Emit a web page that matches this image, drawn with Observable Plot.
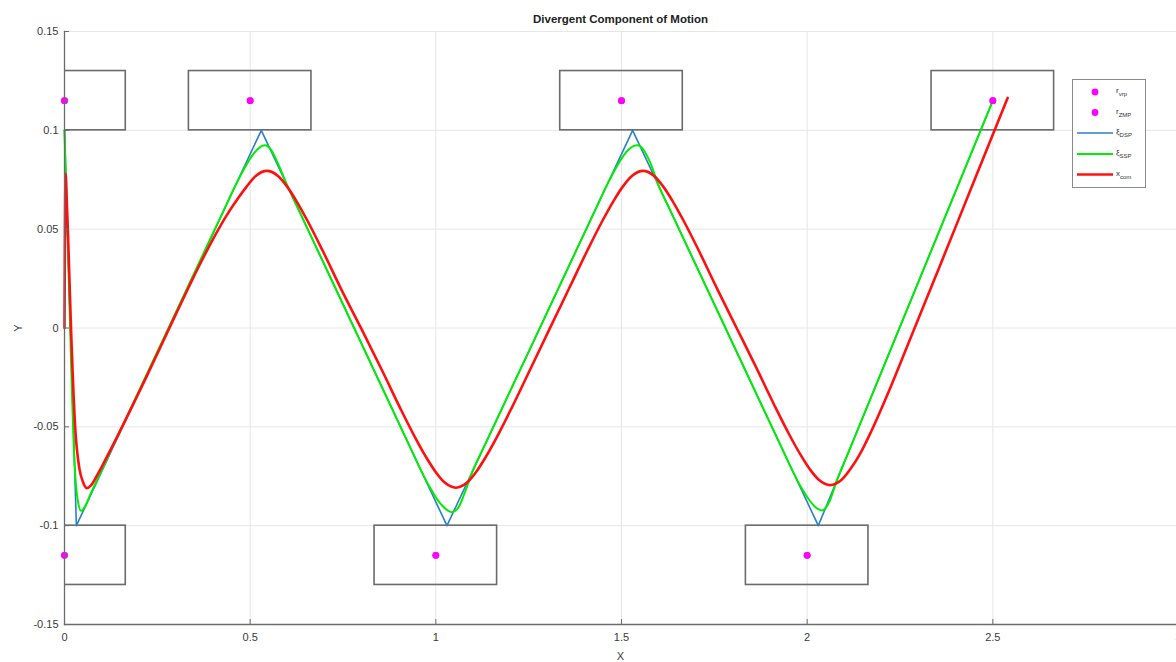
<!DOCTYPE html>
<html>
<head>
<meta charset="utf-8">
<script src="https://cdn.jsdelivr.net/npm/d3@7"></script>
<script src="https://cdn.jsdelivr.net/npm/@observablehq/plot@0.6"></script>
<style>
  body { margin: 0; background: #fff; }
  #wrap { position: relative; width: 1176px; height: 662px; overflow: hidden; font-family: "Liberation Sans", Arial, sans-serif; }
</style>
</head>
<body>
<div id="wrap"></div>
<script>
// ---------- data ----------
const title = "Divergent Component of Motion";
const xLabel = "X";
const yLabel = "Y";
const xTicks = [0, 0.5, 1, 1.5, 2, 2.5, 3];
const yTicks = [-0.15, -0.1, -0.05, 0, 0.05, 0.1, 0.15];

// footsteps (rectangles) and reference points
const footX = [0, 0, 0.5, 1, 1.5, 2, 2.5];
const footY = [0.115, -0.115, 0.115, -0.115, 0.115, -0.115, 0.115];
const footLength = 0.33;
const footWidth = 0.03;

const vrpX = [0, 0, 0.5, 1, 1.5, 2, 2.5];
const vrpY = [0.115, -0.115, 0.115, -0.115, 0.115, -0.115, 0.115];
const zmpX = [0, 0, 0.5, 1, 1.5, 2, 2.5];
const zmpY = [0.115, -0.115, 0.115, -0.115, 0.115, -0.115, 0.115];

// xi_DSP (blue)
const dspX = [0, 0.032, 0.53, 1.03, 1.53, 2.03, 2.5];
const dspY = [0.1, -0.1, 0.1, -0.1, 0.1, -0.1, 0.115];

// xi_SSP (green)
const sspX = [0, 0.004, 0.012, 0.02, 0.027, 0.034, 0.045, 0.056, 0.07, 0.09, 0.12, 0.43,
  0.46, 0.485, 0.505, 0.52, 0.532, 0.54, 0.548, 0.558, 0.575, 0.6, 0.63, 0.93,
  0.96, 0.985, 1.005, 1.02, 1.033, 1.043, 1.052, 1.062, 1.078, 1.1, 1.13, 1.43,
  1.46, 1.485, 1.505, 1.52, 1.533, 1.542, 1.551, 1.561, 1.578, 1.6, 1.63, 1.93,
  1.96, 1.985, 2.005, 2.02, 2.031, 2.04, 2.049, 2.06, 2.08, 2.11, 2.5];
const sspY = [0.1, 0.075, 0.022, -0.032, -0.068, -0.085, -0.0925, -0.09, -0.084, -0.076, -0.064, 0.06,
  0.072, 0.081, 0.0871, 0.0904, 0.0921, 0.0925, 0.0919, 0.0896, 0.0831, 0.072, 0.06, -0.06,
  -0.072, -0.081, -0.0871, -0.0904, -0.0924, -0.0932, -0.0926, -0.0904, -0.0832, -0.072, -0.06, 0.06,
  0.072, 0.081, 0.0871, 0.0904, 0.0921, 0.0925, 0.0919, 0.0897, 0.0834, 0.072, 0.06, -0.06,
  -0.072, -0.081, -0.0869, -0.0902, -0.0918, -0.0923, -0.0912, -0.0878, -0.0771, -0.0634, 0.115];

// x_com (red)
const comX = [0, 0.001, 0.003, 0.006, 0.009, 0.0175, 0.029, 0.04, 0.05, 0.06, 0.072, 0.085, 0.112, 0.22, 0.30, 0.36,
  0.40, 0.435, 0.465, 0.49, 0.515, 0.545, 0.575, 0.60, 0.625, 0.655, 0.695, 0.745, 0.80,
  0.854, 0.904, 0.944, 0.974, 0.999, 1.024, 1.054, 1.084, 1.109, 1.134, 1.164, 1.204, 1.254, 1.306,
  1.358, 1.408, 1.448, 1.478, 1.503, 1.528, 1.558, 1.588, 1.613, 1.638, 1.668, 1.708, 1.758, 1.81,
  1.862, 1.912, 1.952, 1.982, 2.007, 2.032, 2.062, 2.092, 2.117, 2.142, 2.172, 2.212, 2.27, 2.35, 2.45, 2.54];
const comY = [0, 0.04, 0.078, 0.065, 0.05, 0, -0.051, -0.071, -0.078, -0.081, -0.0795, -0.0755, -0.066, -0.025, 0.007, 0.0305,
  0.045, 0.0565, 0.065, 0.0714, 0.0769, 0.0795, 0.0769, 0.0714, 0.0641, 0.054, 0.0392, 0.0197, -0.0006,
  -0.021, -0.0405, -0.0553, -0.0654, -0.0727, -0.0782, -0.0808, -0.0782, -0.0727, -0.0654, -0.0553, -0.0405, -0.021, -0.0006,
  0.0197, 0.0392, 0.054, 0.0641, 0.0714, 0.0769, 0.0795, 0.0769, 0.0714, 0.0641, 0.054, 0.0392, 0.0197, 0,
  -0.0197, -0.0392, -0.054, -0.0641, -0.0714, -0.0769, -0.0795, -0.0769, -0.0712, -0.0638, -0.0525, -0.0355, -0.009, 0.028, 0.0746, 0.1164];

// legend entries
const legendNames = [["r", "vrp"], ["r", "ZMP"], ["ξ", "DSP"], ["ξ", "SSP"], ["x", "com"]];
const legendKinds = ["dot", "dot", "line", "line", "line"];
const legendColors = ["#ff00ff", "#ff00ff", "#2a7fc8", "#00ee00", "#ff1010"];

// ---------- build ----------
const rows = (xs, ys) => xs.map((x, i) => ({x, y: ys[i]}));
const feet = footX.map((x, i) => ({
  x1: x - footLength / 2, x2: x + footLength / 2,
  y1: footY[i] - footWidth / 2, y2: footY[i] + footWidth / 2
}));
const fmt = d => String(+d.toFixed(2));

const W = 1176, H = 662, mL = 64, mT = 31, mB = 38;
const frameW = W - mL, frameH = H - mT - mB;

const chart = Plot.plot({
  width: W, height: H,
  marginLeft: mL, marginRight: 0, marginTop: mT, marginBottom: mB,
  x: {domain: [0, 3], range: [mL, 1178]},
  y: {domain: [-0.15, 0.15], range: [H - mB, mT]},
  style: {fontFamily: '"Liberation Sans", Arial, sans-serif', fontSize: "11px", color: "#3a3a3a", background: "white"},
  marks: [
    Plot.gridX(xTicks, {stroke: "#e6e6e6", strokeOpacity: 1}),
    Plot.gridY(yTicks, {stroke: "#e6e6e6", strokeOpacity: 1}),
    Plot.rect(feet, {x1: "x1", x2: "x2", y1: "y1", y2: "y2", fill: "none", stroke: "#6b6b6b", strokeWidth: 1.6, clip: true}),
    Plot.line(rows(dspX, dspY), {x: "x", y: "y", stroke: legendColors[2], strokeWidth: 1.6}),
    Plot.line(rows(sspX, sspY), {x: "x", y: "y", stroke: legendColors[3], strokeWidth: 2, curve: "monotone-x"}),
    Plot.line(rows(comX, comY), {x: "x", y: "y", stroke: legendColors[4], strokeWidth: 2.6, curve: "monotone-x"}),
    Plot.dot(rows(zmpX, zmpY), {x: "x", y: "y", r: 3.4, fill: legendColors[1], stroke: "none"}),
    Plot.dot(rows(vrpX, vrpY), {x: "x", y: "y", r: 3.4, fill: legendColors[0], stroke: "none"}),
    Plot.tickY(yTicks, {y: d => d, stroke: "#6b6b6b", insetRight: frameW - 5}),
    Plot.tickX(xTicks, {x: d => d, stroke: "#6b6b6b", insetTop: frameH - 5}),
    Plot.axisX(xTicks, {tickSize: 0, tickPadding: 9, tickFormat: fmt, label: xLabel, labelAnchor: "center", labelArrow: "none", labelOffset: 35}),
    Plot.axisY(yTicks, {tickSize: 0, tickPadding: 6, tickFormat: fmt, label: yLabel, labelAnchor: "center", labelArrow: "none", labelOffset: 50}),
    Plot.frame({anchor: "left", stroke: "#6b6b6b", strokeWidth: 1.3}),
    Plot.frame({anchor: "bottom", stroke: "#6b6b6b", strokeWidth: 1.3}),
    Plot.text([title], {frameAnchor: "top", dy: -17, fontWeight: "bold", fontSize: 11.5, fill: "#222"})
  ]
});
chart.style.position = "absolute";
chart.style.left = "0px";
chart.style.top = "0px";
document.getElementById("wrap").appendChild(chart);

// legend
const lg = d3.select("#wrap").append("svg")
  .attr("width", 76).attr("height", 110)
  .style("position", "absolute").style("left", "1072px").style("top", "79px");
lg.append("rect").attr("x", 0.5).attr("y", 0.5).attr("width", 73).attr("height", 108)
  .attr("fill", "white").attr("stroke", "#8a8a8a").attr("stroke-width", 1);
const rowY = [13, 33.5, 54, 75, 95.5];
legendNames.forEach((nm, i) => {
  const g = lg.append("g");
  if (legendKinds[i] === "dot") {
    g.append("circle").attr("cx", 23).attr("cy", rowY[i]).attr("r", 3.4).attr("fill", legendColors[i]);
  } else {
    g.append("line").attr("x1", 5).attr("x2", 41).attr("y1", rowY[i]).attr("y2", rowY[i])
      .attr("stroke", legendColors[i]).attr("stroke-width", i === 4 ? 2.4 : (i === 3 ? 2 : 1.6));
  }
  const t = g.append("text").attr("x", 44).attr("y", rowY[i] + 1)
    .attr("font-size", 8).attr("fill", "#333").attr("font-family", '"Liberation Sans", Arial, sans-serif');
  t.append("tspan").text(nm[0]);
  t.append("tspan").attr("dy", 3).attr("font-size", 6).text(nm[1]);
});
</script>
</body>
</html>
